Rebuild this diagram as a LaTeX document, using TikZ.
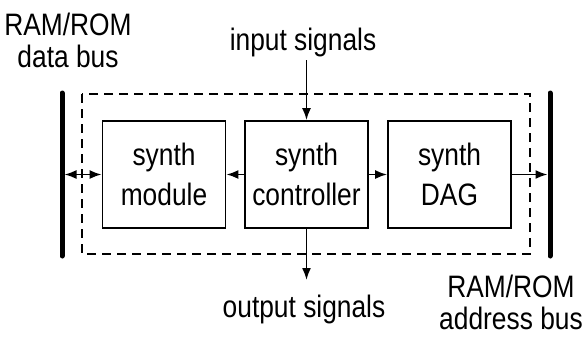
\documentclass[tikz,border=0pt]{standalone}
\usepackage{fontspec}
\setmainfont{Liberation Sans}[FakeStretch=0.85]
\usetikzlibrary{arrows.meta}
\begin{document}
\begin{tikzpicture}[x=1pt,y=-1pt,
  blk/.style={draw,line width=1.8pt,minimum width=123pt,minimum height=107pt,inner sep=0pt,align=center,font=\fontsize{31}{40}\selectfont},
  lbl/.style={inner sep=0pt,align=center,font=\fontsize{31}{31.5}\selectfont},
  bus/.style={line width=5pt,line cap=round},
  conn/.style={line width=1.8pt,-{Latex[length=12pt,width=9pt]}},
  dconn/.style={line width=1.8pt,{Latex[length=12pt,width=9pt]}-{Latex[length=12pt,width=9pt]}},
  frame/.style={draw,line width=1.8pt,dash pattern=on 9pt off 6pt}]
\useasboundingbox (0,0) rectangle (587,343);
% dashed frame
\draw[frame] (82,94) rectangle (530,254);
% buses
\coordinate (lbT) at (62,93);
\coordinate (lbB) at (62,256);
\coordinate (rbT) at (550,93);
\coordinate (rbB) at (550,256);
\draw[bus] (lbT) -- (lbB);
\draw[bus] (rbT) -- (rbB);
% blocks
\node[blk] (mod) at (164,174.5) {synth\\module};
\node[blk] (ctl) at (306.5,174.5) {synth\\controller};
\node[blk] (dag) at (449.5,174.5) {synth\\DAG};
% connectors
\coordinate (lbM) at (64.5,174.5);
\coordinate (rbM) at (547.5,174.5);
\draw[dconn] (lbM) -- (mod.west);
\draw[conn] (ctl.west) -- (mod.east);
\draw[conn] (ctl.east) -- (dag.west);
\draw[conn] (dag.east) -- (rbM);
\coordinate (inS) at (306.5,60);
\coordinate (outE) at (306.5,280);
\draw[conn] (inS) -- (ctl.north);
\draw[conn] (ctl.south) -- (outE);
% labels
\node[lbl,anchor=north] (ltop) at (68,13) {RAM/ROM\\data bus};
\node[lbl,anchor=base] (insig) at (303,50) {input signals};
\node[lbl,anchor=base] (outsig) at (304,317) {output signals};
\node[lbl,anchor=north] (rbot) at (511,275) {RAM/ROM\\address bus};
\end{tikzpicture}
\end{document}
